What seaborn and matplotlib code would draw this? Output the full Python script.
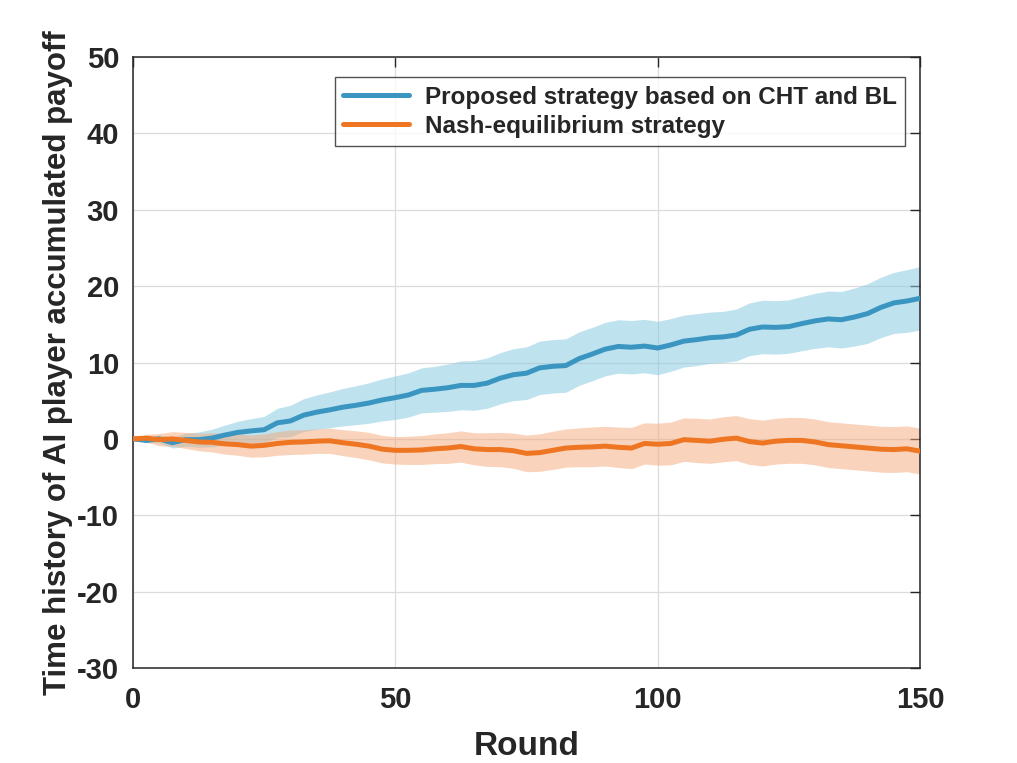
import numpy as np
import pandas as pd
import matplotlib
matplotlib.use("Agg")
import matplotlib.pyplot as plt
import seaborn as sns

rounds = [0, 2.5, 5, 7.5, 10, 12.5, 15, 17.5, 20, 22.5, 25, 27.5, 30, 32.5, 35, 37.5, 40,
          42.5, 45, 47.5, 50, 52.5, 55, 57.5, 60, 62.5, 65, 67.5, 70, 72.5, 75, 77.5, 80,
          82.5, 85, 87.5, 90, 92.5, 95, 97.5, 100, 102.5, 105, 107.5, 110, 112.5, 115,
          117.5, 120, 122.5, 125, 127.5, 130, 132.5, 135, 137.5, 140, 142.5, 145, 147.5, 150]
proposed_mean = [0.0, -0.2, 0.0, -0.5, -0.1, -0.1, 0.1, 0.5, 0.85, 1.05, 1.2, 2.1, 2.35,
                 3.1, 3.5, 3.8, 4.15, 4.4, 4.7, 5.1, 5.4, 5.75, 6.35, 6.5, 6.7, 7.0, 7.0,
                 7.3, 7.95, 8.4, 8.6, 9.3, 9.5, 9.6, 10.5, 11.1, 11.75, 12.1, 12.0, 12.15,
                 11.9, 12.3, 12.8, 13.0, 13.25, 13.35, 13.6, 14.35, 14.65, 14.6, 14.7, 15.1,
                 15.45, 15.7, 15.6, 15.95, 16.4, 17.2, 17.8, 18.05, 18.4]
proposed_hw = [0.0, 0.3, 0.5, 0.7, 0.85, 1.0, 1.15, 1.3, 1.45, 1.6, 1.75, 1.9, 2.05, 2.15,
               2.25, 2.35, 2.45, 2.55, 2.65, 2.75, 2.85, 2.9, 2.95, 3.0, 3.1, 3.2, 3.25, 3.3,
               3.35, 3.4, 3.45, 3.5, 3.5, 3.5, 3.5, 3.5, 3.5, 3.5, 3.5, 3.5, 3.5, 3.45, 3.4,
               3.4, 3.35, 3.35, 3.4, 3.45, 3.5, 3.5, 3.5, 3.55, 3.6, 3.65, 3.7, 3.8, 3.9,
               3.95, 4.0, 4.1, 4.15]
nash_mean = [0.0, 0.1, -0.1, 0.0, -0.2, -0.4, -0.45, -0.65, -0.75, -0.95, -0.85, -0.6,
             -0.45, -0.4, -0.3, -0.25, -0.5, -0.7, -0.95, -1.35, -1.5, -1.5, -1.45, -1.3,
             -1.2, -1.0, -1.3, -1.4, -1.4, -1.55, -1.9, -1.8, -1.5, -1.2, -1.1, -1.05, -0.95,
             -1.1, -1.2, -0.6, -0.7, -0.6, -0.1, -0.2, -0.3, -0.05, 0.1, -0.35, -0.55, -0.3,
             -0.2, -0.2, -0.4, -0.75, -0.9, -1.05, -1.2, -1.35, -1.4, -1.3, -1.6]
nash_hw = [0.0, 0.5, 0.8, 0.95, 1.05, 1.15, 1.25, 1.35, 1.4, 1.45, 1.5, 1.55, 1.6, 1.6, 1.6,
           1.65, 1.7, 1.75, 1.8, 1.8, 1.8, 1.85, 1.9, 1.95, 2.0, 2.05, 2.1, 2.2, 2.25, 2.3,
           2.4, 2.45, 2.5, 2.5, 2.55, 2.6, 2.6, 2.65, 2.7, 2.7, 2.75, 2.8, 2.85, 2.9, 2.9,
           2.95, 2.95, 3.0, 3.0, 3.0, 3.0, 3.0, 3.0, 3.0, 3.0, 3.0, 3.0, 3.0, 3.0, 3.0, 3.0]
labels = ["Proposed strategy based on CHT and BL", "Nash-equilibrium strategy"]
x_ticks = [0, 50, 100, 150]
y_ticks = list(range(-30, 51, 10))

sns.set_theme(style="white")
plt.rcParams['font.family'] = ['Liberation Sans', 'DejaVu Sans']
plt.rcParams['font.weight'] = 'bold'
plt.rcParams['axes.unicode_minus'] = False

blue = "#3a96c1"
blue_fill = "#8ccbe2"
orange = "#ee7623"
orange_fill = "#f4a97a"
dark = "#262626"

df = pd.DataFrame({
    "Round": rounds * 2,
    "Payoff": proposed_mean + nash_mean,
    "Strategy": [labels[0]] * len(rounds) + [labels[1]] * len(rounds),
})

fig = plt.figure(figsize=(10.17, 7.63), dpi=100)
ax = fig.add_axes([0.1308, 0.1245, 0.7738, 0.8008])

r = np.array(rounds)
pm, ph = np.array(proposed_mean), np.array(proposed_hw)
nm, nh = np.array(nash_mean), np.array(nash_hw)
ax.fill_between(r, pm - ph, pm + ph, color=blue_fill, alpha=0.55, linewidth=0, zorder=1)
ax.fill_between(r, nm - nh, nm + nh, color=orange_fill, alpha=0.5, linewidth=0, zorder=1)

sns.lineplot(data=df, x="Round", y="Payoff", hue="Strategy",
             palette={labels[0]: blue, labels[1]: orange}, linewidth=3.6, ax=ax, zorder=3)

ax.set_xlim(0, 150)
ax.set_ylim(-30, 50)
ax.set_xticks(x_ticks)
ax.set_yticks(y_ticks)
ax.grid(True, color="#dcdcdc", linewidth=0.9)
ax.set_axisbelow(True)
for s in ax.spines.values():
    s.set_color(dark)
    s.set_linewidth(1.1)
ax.tick_params(direction="in", length=7, width=1.0, top=True, right=True,
               labelsize=21, colors=dark)
ax.tick_params(axis="x", pad=13)
ax.tick_params(axis="y", pad=10)
for lbl in ax.get_xticklabels() + ax.get_yticklabels():
    lbl.set_fontweight("bold")
ax.set_xlabel("Round", fontsize=24, fontweight="bold", color=dark, labelpad=12)
ax.set_ylabel("Time history of AI player accumulated payoff", fontsize=22.5,
              fontweight="bold", color=dark, labelpad=3)

leg = ax.legend(loc="upper right", bbox_to_anchor=(0.981, 0.967), borderaxespad=0,
                fontsize=17.5, frameon=True, fancybox=False, edgecolor=dark,
                handlelength=2.7, borderpad=0.35, labelspacing=0.25, handletextpad=0.65)
leg.get_frame().set_linewidth(1.0)
for t in leg.get_texts():
    t.set_fontweight("bold")
for l in leg.get_lines():
    l.set_linewidth(3.6)

fig.savefig("out.png", dpi=100)
